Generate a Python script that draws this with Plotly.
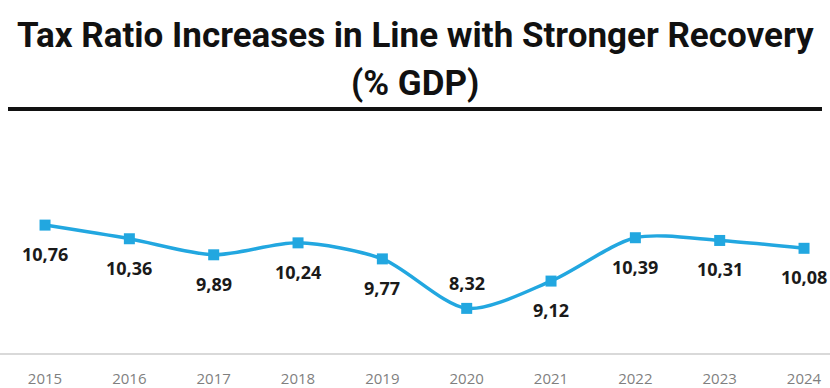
import plotly.graph_objects as go

years = ["2015", "2016", "2017", "2018", "2019", "2020", "2021", "2022", "2023", "2024"]
tax_ratio = [10.76, 10.36, 9.89, 10.24, 9.77, 8.32, 9.12, 10.39, 10.31, 10.08]
label_above = [False, False, False, False, False, True, False, False, False, False]

title_line1 = "Tax Ratio Increases in Line with Stronger Recovery"
title_line2 = "(% GDP)"

W, H = 830, 388
T, B = 120, 33
plot_h = H - T - B

def py(pix):
    return (H - B - pix) / plot_h

blue = "#22A7E0"

fig = go.Figure()
fig.add_trace(go.Scatter(
    x=years, y=tax_ratio, mode="lines+markers",
    line=dict(color=blue, width=3.5, shape="spline", smoothing=0.8),
    marker=dict(symbol="square", size=11, color=blue),
    hoverinfo="skip", showlegend=False,
))

annotations = []
for i, (v, up) in enumerate(zip(tax_ratio, label_above)):
    annotations.append(dict(
        x=i, y=v, xref="x", yref="y",
        text="<b>" + f"{v:.2f}".replace(".", ",") + "</b>",
        showarrow=False, yshift=(25 if up else -29),
        xanchor="center", yanchor="middle",
        font=dict(family="Open Sans", size=18, color="#1A1A1A"),
    ))

annotations.append(dict(
    x=0.5, y=py(35), xref="paper", yref="paper", text=f"<b>{title_line1}</b>",
    showarrow=False, xanchor="center", yanchor="middle",
    font=dict(family="Roboto", size=35, color="#111111"),
))
annotations.append(dict(
    x=0.5, y=py(83), xref="paper", yref="paper", text=f"<b>{title_line2}</b>",
    showarrow=False, xanchor="center", yanchor="middle",
    font=dict(family="Roboto", size=35, color="#111111"),
))

fig.update_layout(
    width=W, height=H,
    margin=dict(l=0, r=0, t=T, b=B),
    paper_bgcolor="white", plot_bgcolor="white",
    annotations=annotations,
    shapes=[dict(type="line", xref="paper", yref="paper",
                 x0=8 / W, x1=822 / W, y0=py(109), y1=py(109),
                 line=dict(color="#111111", width=4))],
    xaxis=dict(
        type="category", range=[-0.534, 9.308],
        showgrid=False, zeroline=False,
        showline=True, linecolor="#D9D9D9", linewidth=1.5,
        ticks="outside", ticklen=11, tickcolor="rgba(0,0,0,0)",
        tickfont=dict(family="Open Sans", size=15, color="#7F7F7F"),
    ),
    yaxis=dict(range=[7.013, 13.839], showgrid=False, zeroline=False,
               showticklabels=False, showline=False),
)

fig.write_html("out.html")
